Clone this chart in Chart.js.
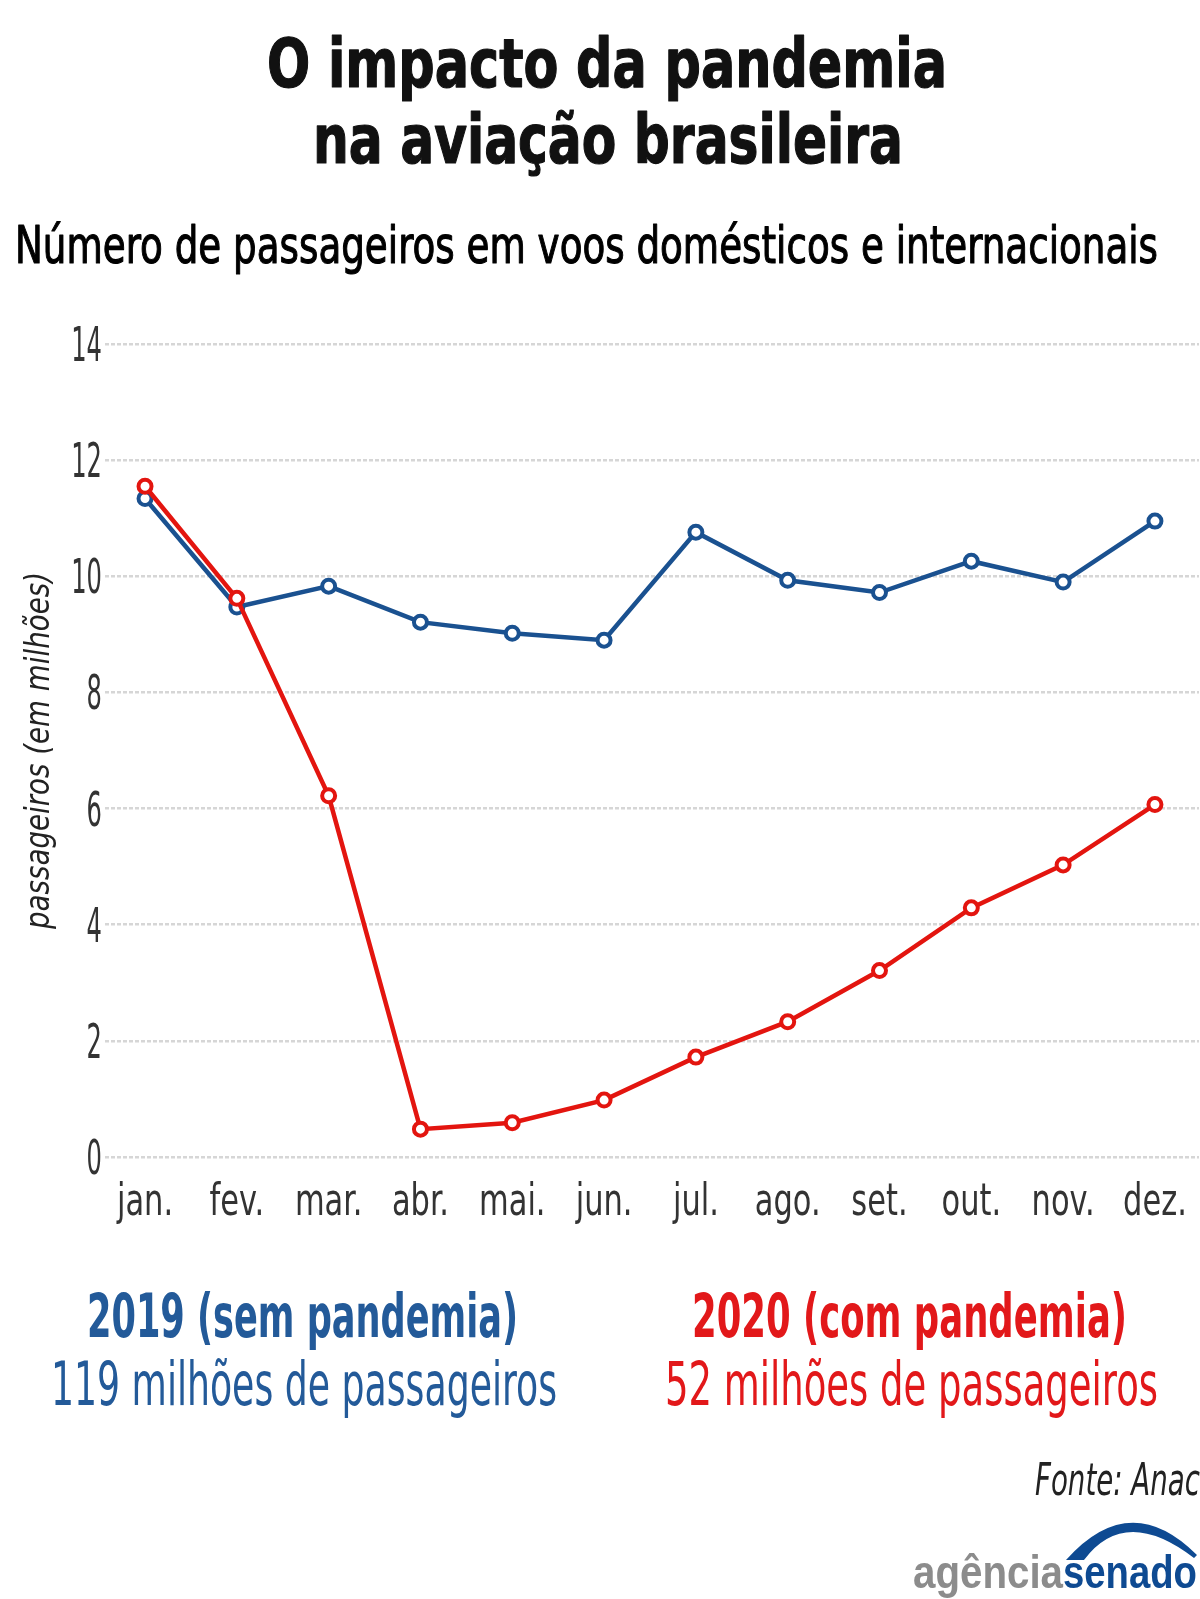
<!DOCTYPE html>
<html>
<head>
<meta charset="utf-8">
<script src="https://cdn.jsdelivr.net/npm/chart.js@4.4.1/dist/chart.umd.min.js"></script>
<style>
  html, body { margin: 0; padding: 0; background: #ffffff; }
  #wrap { width: 1200px; height: 1599px; position: relative; }
  canvas { display: block; }
</style>
</head>
<body>
<div id="wrap"><canvas id="c" width="1200" height="1599"></canvas></div>
<script>
// ---- data ----
const months = ['jan.', 'fev.', 'mar.', 'abr.', 'mai.', 'jun.', 'jul.', 'ago.', 'set.', 'out.', 'nov.', 'dez.'];
const pass2019 = [11.34, 9.47, 9.83, 9.21, 9.02, 8.90, 10.76, 9.93, 9.72, 10.26, 9.90, 10.95];
const pass2020 = [11.55, 9.62, 6.22, 0.48, 0.59, 0.98, 1.72, 2.33, 3.21, 4.29, 5.03, 6.07];
const yTickValues = [0, 2, 4, 6, 8, 10, 12, 14];

const titleLines = ['O impacto da pandemia', 'na aviação brasileira'];
const subtitle = 'Número de passageiros em voos domésticos e internacionais';
const yAxisTitle = 'passageiros (em milhões)';
const label2019 = '2019 (sem pandemia)';
const total2019 = '119 milhões de passageiros';
const label2020 = '2020 (com pandemia)';
const total2020 = '52 milhões de passageiros';
const sourceText = 'Fonte: Anac';

// ---- styles ----
const BLUE = '#1a5190';
const RED = '#e3150f';
const BLUE_TXT = '#235a99';
const RED_TXT = '#e2181a';
const NARROW = "'Liberation Sans Narrow', 'DejaVu Sans Condensed', 'Arial Narrow', sans-serif";

function fitText(ctx, text, x, baseline, width, font, color, align, stroke) {
  ctx.save();
  ctx.font = font;
  ctx.fillStyle = color;
  ctx.textBaseline = 'alphabetic';
  ctx.textAlign = 'left';
  const w = ctx.measureText(text).width;
  const s = width / w;
  let left = x;
  if (align === 'center') left = x - width / 2;
  else if (align === 'right') left = x - width;
  ctx.translate(left, baseline);
  ctx.scale(s, 1);
  ctx.fillText(text, 0, 0);
  if (stroke) {
    ctx.strokeStyle = color;
    ctx.lineWidth = stroke;
    ctx.lineJoin = 'round';
    ctx.strokeText(text, 0, 0);
  }
  ctx.restore();
}

// draws text squeezed horizontally by a fixed factor
function squeezeText(ctx, text, x, baseline, sx, font, color, align) {
  ctx.save();
  ctx.font = font;
  ctx.fillStyle = color;
  ctx.textBaseline = 'alphabetic';
  ctx.textAlign = align;
  ctx.translate(x, baseline);
  ctx.scale(sx, 1);
  ctx.fillText(text, 0, 0);
  ctx.restore();
}

const textPlugin = {
  id: 'texts',
  afterDraw(chart) {
    const ctx = chart.ctx;
    const xs = chart.scales.x;
    const ys = chart.scales.y;

    // y tick labels (positions from the y scale)
    ys.ticks.forEach(t => {
      const py = ys.getPixelForValue(t.value);
      squeezeText(ctx, String(t.value), 102, py + 17, 0.56, '48px ' + NARROW, '#333333', 'right');
    });
    // x tick labels (positions from the x scale)
    xs.ticks.forEach(t => {
      const px = xs.getPixelForValue(t.value);
      const lab = months[t.value];
      if (lab !== undefined) squeezeText(ctx, lab, px, 1215, 0.77, '44px ' + NARROW, '#333333', 'center');
    });
    // y axis title
    ctx.save();
    ctx.translate(49, (ys.top + ys.bottom) / 2);
    ctx.rotate(-Math.PI / 2);
    fitText(ctx, yAxisTitle, 0, 0, 357, 'italic 34px ' + NARROW, '#222222', 'center');
    ctx.restore();

    // title
    fitText(ctx, titleLines[0], 267, 87, 680, 'bold 68px ' + NARROW, '#111111', 'left', 1.2);
    fitText(ctx, titleLines[1], 313, 163, 590, 'bold 68px ' + NARROW, '#111111', 'left', 1.2);
    // subtitle
    fitText(ctx, subtitle, 15, 263, 1143, '52px ' + NARROW, '#000000', 'left', 1.1);
    // bottom captions
    fitText(ctx, label2019, 87, 1337, 431, 'bold 60px ' + NARROW, BLUE_TXT, 'left');
    fitText(ctx, total2019, 51, 1405, 506, '60px ' + NARROW, BLUE_TXT, 'left');
    fitText(ctx, label2020, 692, 1337, 435, 'bold 60px ' + NARROW, RED_TXT, 'left');
    fitText(ctx, total2020, 665, 1405, 493, '60px ' + NARROW, RED_TXT, 'left');
    // source
    fitText(ctx, sourceText, 1035, 1495, 165, 'italic 45px ' + NARROW, '#222222', 'left');
    // logo
    fitText(ctx, 'agência', 913, 1588, 150, 'bold 46px Liberation Sans, Arial, sans-serif', '#8c8c8c', 'left');
    fitText(ctx, 'senado', 1063, 1588, 134, 'bold 46px Liberation Sans, Arial, sans-serif', '#0e4a92', 'left');
    ctx.save();
    ctx.fillStyle = '#0e4a92';
    ctx.beginPath();
    ctx.moveTo(1066, 1560);
    ctx.quadraticCurveTo(1130, 1488, 1197, 1555);
    ctx.lineTo(1194, 1558);
    ctx.quadraticCurveTo(1125, 1505, 1084, 1560);
    ctx.closePath();
    ctx.fill();
    ctx.restore();
  }
};

const toPoints = arr => arr.map((v, i) => ({ x: i, y: v }));

new Chart(document.getElementById('c'), {
  type: 'line',
  data: {
    datasets: [
      {
        label: '2019',
        data: toPoints(pass2019),
        borderColor: BLUE,
        borderWidth: 4.5,
        pointRadius: 6.5,
        pointBorderWidth: 4,
        pointBackgroundColor: '#ffffff',
        pointBorderColor: BLUE,
        tension: 0,
        order: 1
      },
      {
        label: '2020',
        data: toPoints(pass2020),
        borderColor: RED,
        borderWidth: 4.5,
        pointRadius: 6.5,
        pointBorderWidth: 4,
        pointBackgroundColor: '#ffffff',
        pointBorderColor: RED,
        tension: 0,
        order: 0
      }
    ]
  },
  options: {
    responsive: false,
    animation: false,
    devicePixelRatio: 1,
    layout: { autoPadding: false, padding: { left: 0, right: 1, top: 344, bottom: 362 } },
    plugins: {
      legend: { display: false },
      tooltip: { enabled: false },
      title: { display: false }
    },
    scales: {
      x: {
        type: 'linear',
        min: -0.436,
        max: 11.48,
        grid: { display: false, drawTicks: false },
        border: { display: false },
        afterFit(scale) { scale.height = 80; },
        afterBuildTicks(scale) { scale.ticks = months.map((m, i) => ({ value: i })); },
        ticks: { display: false, includeBounds: false, autoSkip: false, maxRotation: 0 }
      },
      y: {
        min: 0,
        max: 14,
        afterFit(scale) { scale.width = 105; },
        afterBuildTicks(scale) { scale.ticks = yTickValues.map(v => ({ value: v })); },
        grid: { color: '#d6d6d6', lineWidth: 2.5, drawTicks: false },
        border: { display: false, dash: [4, 2] },
        title: { display: false },
        ticks: { display: false }
      }
    }
  },
  plugins: [textPlugin]
});
</script>
</body>
</html>
